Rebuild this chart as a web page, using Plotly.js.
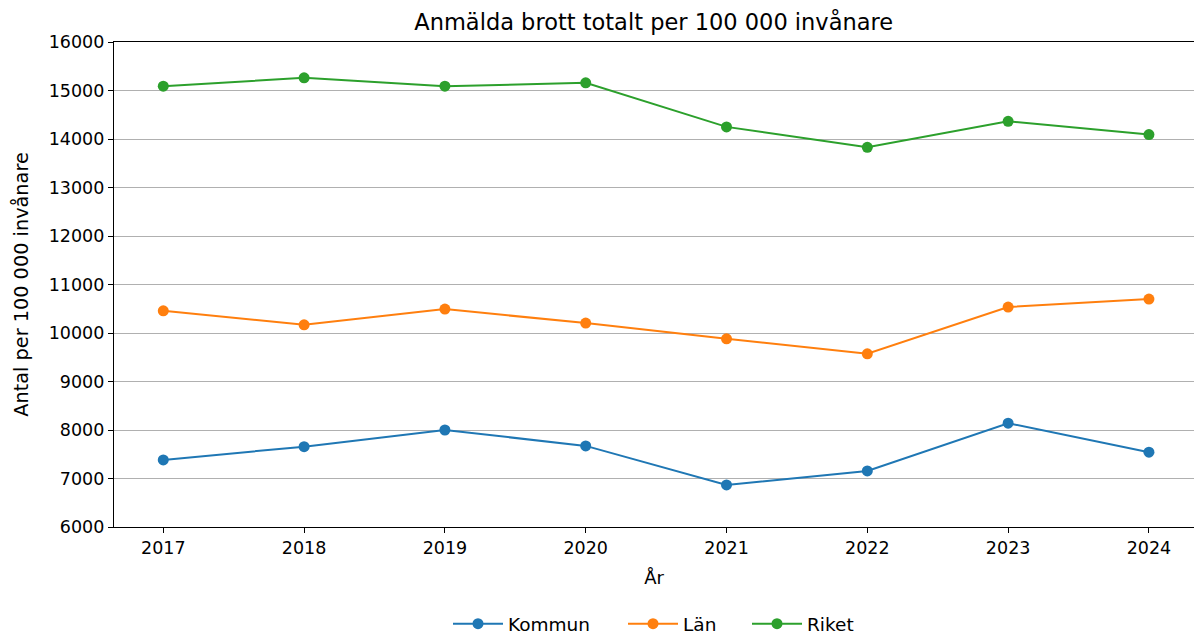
<!DOCTYPE html>
<html>
<head>
<meta charset="utf-8">
<script src="https://cdn.plot.ly/plotly-3.0.1.min.js"></script>
<style>html,body{margin:0;padding:0;background:#fff;}#chart{width:1194px;height:635px;}</style>
</head>
<body>
<div id="chart"></div>
<script>
const years = [2017, 2018, 2019, 2020, 2021, 2022, 2023, 2024];
const kommun = [7383, 7657, 8000, 7672, 6867, 7156, 8140, 7542];
const lan = [10458, 10169, 10493, 10204, 9880, 9571, 10535, 10700];
const riket = [15088, 15261, 15088, 15158, 14250, 13828, 14365, 14091];
const seriesNames = ['Kommun', 'Län', 'Riket'];
const yTicks = [6000, 7000, 8000, 9000, 10000, 11000, 12000, 13000, 14000, 15000, 16000];

const colors = ['#1f77b4', '#ff7f0e', '#2ca02c'];
const font = 'DejaVu Sans, sans-serif';
const legendIds = ['legend', 'legend2', 'legend3'];
const legendX = [448, 623, 747];
const data = [kommun, lan, riket].map((vals, i) => ({
  x: years, y: vals, name: seriesNames[i], type: 'scatter', mode: 'lines+markers',
  line: {color: colors[i], width: 2}, marker: {color: colors[i], size: 11},
  legend: legendIds[i]
}));

const layout = {
  width: 1194, height: 635,
  margin: {l: 114, r: 0, t: 42, b: 108},
  paper_bgcolor: '#fff', plot_bgcolor: '#fff',
  title: {text: 'Anmälda brott totalt per 100 000 invånare', font: {family: font, size: 22.5, color: '#000'}, x: 0.5475, xanchor: 'center', y: 0.965, yanchor: 'middle'},
  xaxis: {
    range: [2016.65, 2024.32], tickvals: years, ticktext: years.map(String), automargin: false,
    showgrid: false, zeroline: false, showline: true, linecolor: '#000', linewidth: 1.2, mirror: true,
    ticks: 'outside', ticklen: 5, tickcolor: '#000',
    tickfont: {family: font, size: 17.5, color: '#000'},
    title: {text: 'År', font: {family: font, size: 18, color: '#000'}, standoff: 14}
  },
  yaxis: {
    range: [6000, 16000], tickvals: yTicks, ticktext: yTicks.map(String), automargin: false,
    showgrid: true, gridcolor: '#b0b0b0', gridwidth: 1, zeroline: false,
    showline: true, linecolor: '#000', linewidth: 1.2,
    ticks: 'outside', ticklen: 5, tickcolor: '#000',
    tickfont: {family: font, size: 17.5, color: '#000'},
    title: {text: 'Antal per 100 000 invånare', font: {family: font, size: 19.3, color: '#000'}, standoff: 14}
  },
  showlegend: true
};
legendIds.forEach((id, i) => {
  layout[id] = {orientation: 'h', xref: 'container', x: legendX[i] / 1194, xanchor: 'left',
    yref: 'container', y: 0.017, yanchor: 'middle',
    font: {family: font, size: 18.5, color: '#000'}, itemwidth: 50, bgcolor: 'rgba(0,0,0,0)'};
});
Plotly.newPlot('chart', data, layout, {displayModeBar: false});
</script>
</body>
</html>
